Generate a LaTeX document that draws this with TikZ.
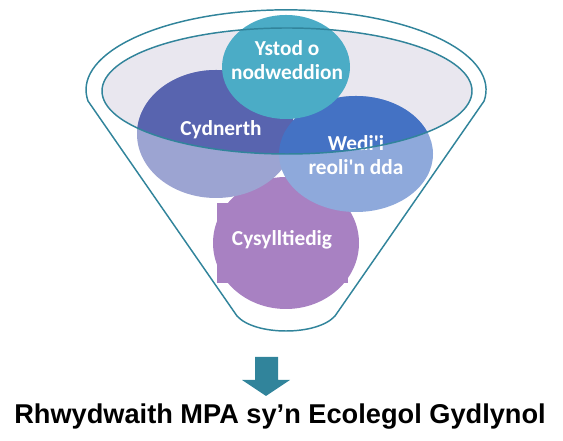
\documentclass[tikz,border=0pt]{standalone}
\usepackage{fontspec}
\setmainfont{Carlito}
\newfontfamily\arialfont{Liberation Sans}
\usepackage{xcolor}
\usetikzlibrary{positioning}

\definecolor{funnelteal}{HTML}{31849B}
\definecolor{glassgray}{HTML}{E9E7EF}
\definecolor{ystodcol}{HTML}{4BACC6}
\definecolor{cydndark}{HTML}{5864AF}
\definecolor{cydnlight}{HTML}{9CA4D2}
\definecolor{wedidark}{HTML}{4472C4}
\definecolor{wedilight}{HTML}{8EA9DB}
\definecolor{cysycol}{HTML}{A881C2}

\tikzset{
	bubbletext/.style = {text=white, font=\bfseries\fontsize{16}{17.5}\selectfont, align=center},
	funnelline/.style = {draw=funnelteal, line width=1.1pt}
}

\begin{document}
\begin{tikzpicture}[x=0.75pt, y=0.75pt]
	\useasboundingbox (0,0) rectangle (563,441);
	
	% funnel outline
	\draw[funnelline, fill=white] (237,125) -- (88,340)
		arc[start angle=188, end angle=-8, x radius=200, y radius=80]
		-- (335,125) .. controls (317,105) and (255,105) .. (237,125) -- cycle;
	
	% glass at the top
	\def\glass{(287,350) ellipse [x radius=185, y radius=63]}
	\fill[glassgray] \glass;
	
	% connected (behind the others)
	\fill[cysycol] (286,198) ellipse [x radius=73, y radius=66];
	\fill[cysycol] (217,158) rectangle (348,238);
	
	% resilient and well managed, lighter below the glass
	\fill[cydnlight] (216,307) ellipse [x radius=79, y radius=64];
	\fill[wedilight] (356,287) ellipse [x radius=77, y radius=58];
	\begin{scope}
		\clip \glass;
		\fill[cydndark] (216,307) ellipse [x radius=79, y radius=64];
		\fill[wedidark] (356,287) ellipse [x radius=77, y radius=58];
	\end{scope}
	
	% range of features
	\fill[ystodcol] (286,374) ellipse [x radius=64, y radius=52];
	
	\node[bubbletext] (ystod) at (287,381) {Ystod o\\nodweddion};
	\node[bubbletext] (cydnerth) at (221,311) {Cydnerth};
	\node[bubbletext] (wedi) at (356,286) {Wedi\textquotesingle i\\reoli\textquotesingle n dda};
	\node[bubbletext] (cysylltiedig) at (282,201) {Cysylltiedig};
	
	\draw[funnelline] \glass;
	
	% arrow down to the result
	\fill[funnelteal] (255,84) -- (278,84) -- (278,61) -- (290,61) -- (266,45)
		-- (242,61) -- (255,61) -- cycle;
	
	\node[anchor=base, font=\arialfont\bfseries\fontsize{20.4}{23}\selectfont] (network)
		at (280,17) {Rhwydwaith MPA sy’n Ecolegol Gydlynol};
	
\end{tikzpicture}
\end{document}
